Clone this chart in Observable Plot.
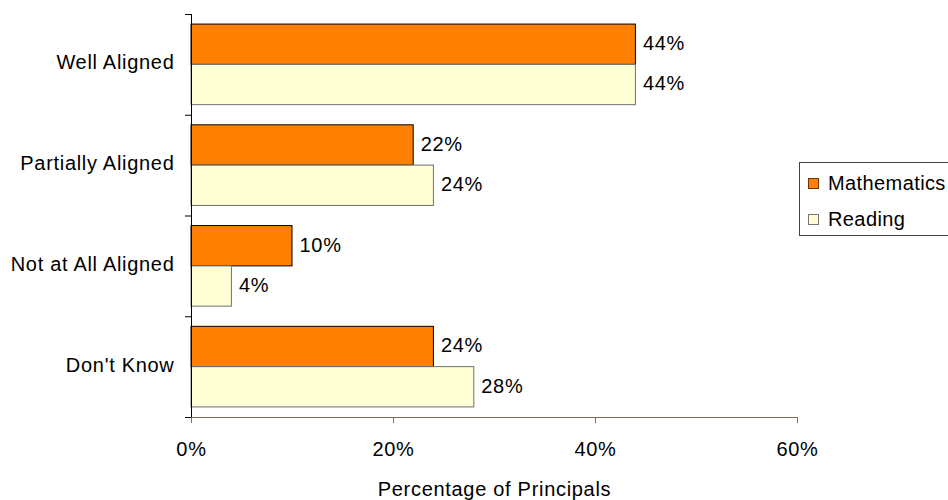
<!DOCTYPE html>
<html>
<head>
<meta charset="utf-8">
<script src="https://cdn.jsdelivr.net/npm/d3@7"></script>
<script src="https://cdn.jsdelivr.net/npm/@observablehq/plot@0.6"></script>
<style>
  html, body { margin: 0; padding: 0; background: #fff; }
  #wrap { position: relative; width: 948px; height: 500px; overflow: hidden;
          font-family: "Liberation Sans", Arial, sans-serif; }
  #legend { position: absolute; left: 799px; top: 162px; width: 170px; height: 74px;
            border: 1px solid #444; background: #fff; box-sizing: border-box; }
  .item { position: absolute; left: 8px; font-size: 20px; letter-spacing: 0.4px; line-height: 22px; color: #000; }
  .sw { display: inline-block; width: 9px; height: 9px; margin-right: 9px; vertical-align: 1px; }
</style>
</head>
<body>
<div id="wrap"></div>
<script>
const categories = ["Well Aligned", "Partially Aligned", "Not at All Aligned", "Don't Know"];
const series = ["Mathematics", "Reading"];
const mathematics = [44, 22, 10, 24];
const reading = [44, 24, 4, 28];
const xTicks = [0, 20, 40, 60];
const colors = {Mathematics: "#FF8000", Reading: "#FFFFD6"};
const strokes = {Mathematics: "#000000", Reading: "#6e6e6e"};

const rows = [];
categories.forEach((c, i) => {
  rows.push({category: c, i, series: "Mathematics", slot: 0, value: mathematics[i]});
  rows.push({category: c, i, series: "Reading", slot: 1, value: reading[i]});
});

const pad = 0.1, half = 0.4;
const centers = categories.map((c, i) => i + 0.5);
const bounds = d3.range(categories.length + 1);

const fs = 20;
const chart = Plot.plot({
  width: 948,
  height: 500,
  marginLeft: 191,
  marginRight: 151,
  marginTop: 14,
  marginBottom: 83,
  style: {fontFamily: "'Liberation Sans', Arial, sans-serif", fontSize: fs + "px", letterSpacing: "0.7px", color: "#000", background: "#fff"},
  x: {domain: [0, 60]},
  y: {domain: [0, categories.length], reverse: true},
  marks: [
    Plot.rect(rows, {
      x1: 0, x2: "value",
      y1: d => d.i + pad + d.slot * half,
      y2: d => d.i + pad + (d.slot + 1) * half,
      fill: d => colors[d.series],
      stroke: d => strokes[d.series],
      strokeWidth: 1
    }),
    Plot.text(rows, {
      x: "value",
      y: d => d.i + pad + (d.slot + 0.5) * half,
      text: d => d.value + "%",
      textAnchor: "start",
      dx: 7,
      dy: -1,
      fontSize: fs
    }),
    Plot.ruleY([categories.length], {stroke: "#7d6b5c", strokeWidth: 1}),
    Plot.ruleX([0], {y1: 0, y2: categories.length, stroke: "#000", strokeWidth: 1}),
    Plot.axisX({
      ticks: xTicks,
      tickFormat: d => d + "%",
      tickSize: 6,
      tickPadding: 18,
      stroke: "#7d6b5c",
      fill: "#000",
      fontSize: fs,
      label: "Percentage of Principals",
      labelAnchor: "center",
      labelArrow: "none",
      labelOffset: 78
    }),
    Plot.axisY({
      ticks: bounds,
      tickFormat: () => "",
      tickSize: 6,
      stroke: "#000",
      label: null
    }),
    Plot.axisY({
      ticks: centers,
      tickFormat: t => categories[Math.floor(t)],
      tickSize: 0,
      tickPadding: 17,
      dy: -2,
      fill: "#000",
      fontSize: fs,
      label: null
    })
  ]
});

const wrap = document.getElementById("wrap");
wrap.appendChild(chart);

const legend = document.createElement("div");
legend.id = "legend";
series.forEach((s, k) => {
  const it = document.createElement("div");
  it.className = "item";
  it.style.top = (k === 0 ? 9 : 45) + "px";
  const sw = document.createElement("span");
  sw.className = "sw";
  sw.style.background = colors[s];
  sw.style.border = "1px solid " + (k === 0 ? "#6b3400" : "#777");
  it.appendChild(sw);
  it.appendChild(document.createTextNode(s));
  legend.appendChild(it);
});
wrap.appendChild(legend);
</script>
</body>
</html>
